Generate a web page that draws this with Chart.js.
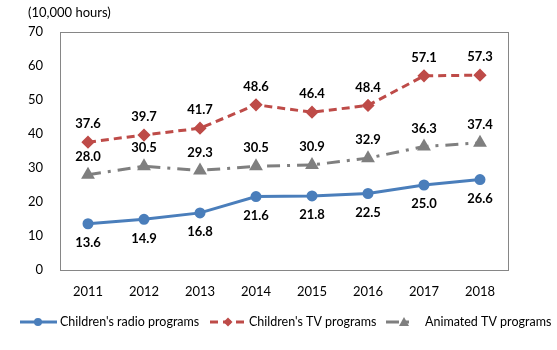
<!DOCTYPE html>
<html>
<head>
<meta charset="utf-8">
<script src="https://cdn.jsdelivr.net/npm/chart.js@4"></script>
<style>
  body { margin: 0; background: #fff; }
  #wrap { width: 557px; height: 350px; position: relative; }
</style>
</head>
<body>
<div id="wrap"><canvas id="chart" width="557" height="350"></canvas></div>
<script>
const years = ['2011', '2012', '2013', '2014', '2015', '2016', '2017', '2018'];
const radioHours = [13.6, 14.9, 16.8, 21.6, 21.8, 22.5, 25.0, 26.6];
const tvHours = [37.6, 39.7, 41.7, 48.6, 46.4, 48.4, 57.1, 57.3];
const animatedHours = [28.0, 30.5, 29.3, 30.5, 30.9, 32.9, 36.3, 37.4];
const seriesNames = ["Children's radio programs", "Children's TV programs", "Animated TV programs"];

const FONT = 'Lato, "Open Sans", sans-serif';

// labels above/below points
const valueLabels = {
  id: 'valueLabels',
  afterDatasetsDraw(chart) {
    const ctx = chart.ctx;
    ctx.save();
    ctx.font = 'bold 13px ' + FONT;
    ctx.fillStyle = '#000';
    ctx.textAlign = 'center';
    ctx.textBaseline = 'middle';
    chart.data.datasets.forEach((ds, i) => {
      const meta = chart.getDatasetMeta(i);
      meta.data.forEach((pt, j) => {
        const off = ds.labelPos === 'below' ? 19 : -18;
        ctx.fillText(ds.data[j].toFixed(1), pt.x, pt.y + off);
      });
    });
    ctx.restore();
  }
};

// box around plot + custom legend
const frameAndLegend = {
  id: 'frameAndLegend',
  afterDraw(chart) {
    const ctx = chart.ctx;
    const a = chart.chartArea;
    ctx.save();
    ctx.strokeStyle = '#868686';
    ctx.lineWidth = 1;
    ctx.strokeRect(Math.round(a.left) + 0.5, Math.round(a.top) + 0.5, Math.round(a.right - a.left), Math.round(a.bottom - a.top));

    ctx.font = '12.5px ' + FONT;
    ctx.fillStyle = '#000';
    ctx.textBaseline = 'middle';
    const y = 322;
    // [line start, line end, marker x, text x]
    const items = [[20, 57, 38, 60], [210, 245, 228, 249], [386, 414, 404, 425]];
    chart.data.datasets.forEach((ds, i) => {
      const [x0, x1, cx, tx] = items[i];
      ctx.strokeStyle = ds.borderColor;
      ctx.lineWidth = 3;
      ctx.setLineDash(ds.borderDash || []);
      ctx.beginPath();
      ctx.moveTo(x0, y);
      ctx.lineTo(x1, y);
      ctx.stroke();
      ctx.setLineDash([]);
      ctx.fillStyle = ds.borderColor;
      ctx.beginPath();
      if (ds.pointStyle === 'circle') {
        ctx.arc(cx, y, 4, 0, Math.PI * 2);
      } else if (ds.pointStyle === 'rectRot') {
        ctx.moveTo(cx, y - 4.5); ctx.lineTo(cx + 4.5, y); ctx.lineTo(cx, y + 4.5); ctx.lineTo(cx - 4.5, y);
      } else {
        ctx.moveTo(cx, y - 5); ctx.lineTo(cx + 5, y + 4); ctx.lineTo(cx - 5, y + 4);
      }
      ctx.fill();
      ctx.fillStyle = '#000';
      ctx.fillText(ds.label, tx, y);
    });
    ctx.restore();
  }
};

new Chart(document.getElementById('chart'), {
  type: 'line',
  data: {
    labels: years,
    datasets: [
      {
        label: seriesNames[0], data: radioHours, labelPos: 'below',
        borderColor: '#4A7EBB', backgroundColor: '#4A7EBB', borderWidth: 3,
        pointStyle: 'circle', pointRadius: 4, tension: 0
      },
      {
        label: seriesNames[1], data: tvHours, labelPos: 'above',
        borderColor: '#BE4B48', backgroundColor: '#BE4B48', borderWidth: 3,
        borderDash: [8, 5], pointStyle: 'rectRot', pointRadius: 4.5, tension: 0
      },
      {
        label: seriesNames[2], data: animatedHours, labelPos: 'above',
        borderColor: '#7F7F7F', backgroundColor: '#7F7F7F', borderWidth: 3,
        borderDash: [13, 7, 3, 7], pointStyle: 'triangle', pointRadius: 5, tension: 0
      }
    ]
  },
  options: {
    responsive: false,
    animation: false,
    devicePixelRatio: 1,
    layout: { padding: { left: 0, right: 49, top: 32, bottom: 0 } },
    plugins: {
      legend: { display: false },
      tooltip: { enabled: false },
      title: { display: false }
    },
    scales: {
      x: {
        offset: true,
        grid: { display: false, drawTicks: false },
        border: { display: false },
        ticks: { color: '#000', font: { family: FONT, size: 13 }, padding: 14, maxRotation: 0, autoSkip: false },
        afterFit(scale) { scale.height = 80; }
      },
      y: {
        min: 0, max: 70,
        grid: { display: false, drawTicks: false },
        border: { display: false },
        ticks: { stepSize: 10, color: '#000', font: { family: FONT, size: 13 }, padding: 17 },
        afterFit(scale) { scale.width = 60; }
      }
    }
  },
  plugins: [valueLabels, frameAndLegend, {
    id: 'unitLabel',
    afterDraw(chart) {
      const ctx = chart.ctx;
      ctx.save();
      ctx.font = '13px ' + FONT;
      ctx.fillStyle = '#000';
      ctx.textBaseline = 'middle';
      ctx.fillText('(10,000 hours)', 28, 13);
      ctx.restore();
    }
  }]
});
</script>
</body>
</html>
